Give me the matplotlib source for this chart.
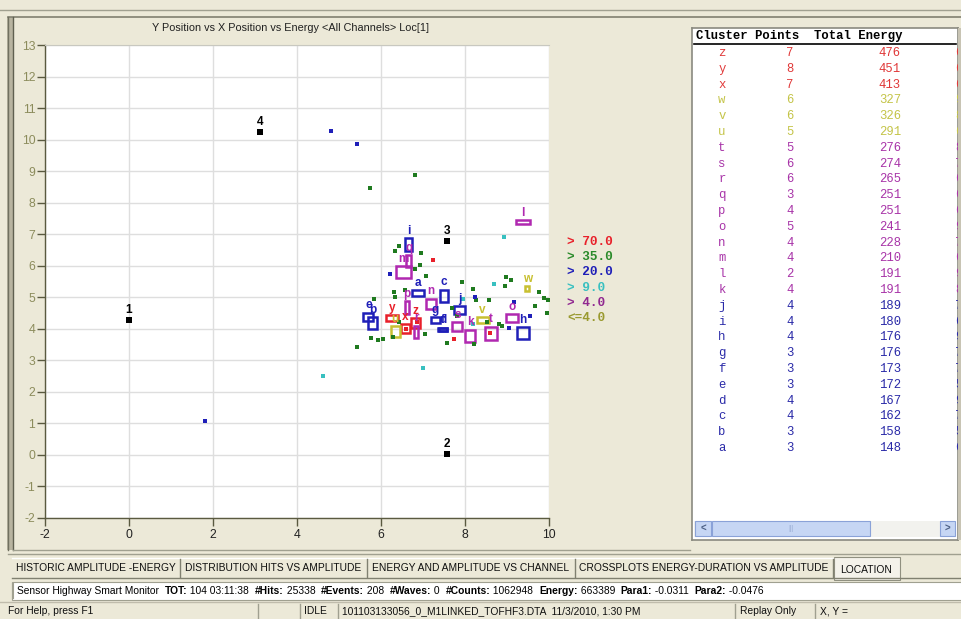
import matplotlib
matplotlib.use('Agg')
import matplotlib.pyplot as plt
from matplotlib.patches import Rectangle
from matplotlib.lines import Line2D

plt.rcParams['axes.unicode_minus'] = False
plt.rcParams['font.family'] = ['Liberation Sans', 'DejaVu Sans']

# ---------------- data ----------------
title = "Y Position vs X Position vs Energy <All Channels> Loc[1]"

sensor_ids = ['1', '2', '3', '4']
sensor_x = [0.0, 7.58, 7.58, 3.13]
sensor_y = [4.28, 0.03, 6.79, 10.25]

green_x = [6.42, 6.34, 6.96, 6.92, 6.80, 7.08, 6.32, 6.34, 6.58, 5.84, 7.94, 8.20, 8.26, 8.56,
           8.98, 9.10, 8.96, 9.76, 9.66, 9.88, 9.98, 9.96, 8.52, 8.80, 8.88, 5.76, 5.92, 6.04,
           5.44, 7.58, 8.22, 7.04, 6.28, 7.80, 6.44, 5.73, 6.80, 7.70]
green_y = [6.64, 6.47, 6.39, 6.02, 5.89, 5.67, 5.16, 5.00, 5.23, 4.95, 5.47, 5.26, 4.91, 4.91,
           5.65, 5.55, 5.37, 5.18, 4.72, 4.97, 4.91, 4.51, 4.21, 4.14, 4.10, 3.72, 3.64, 3.67,
           3.43, 3.54, 3.52, 3.84, 3.75, 4.42, 4.23, 8.46, 8.88, 4.65]
blue_x = [4.80, 5.44, 1.82, 6.22, 8.24, 9.16, 9.54, 9.04]
blue_y = [10.27, 9.86, 1.07, 5.74, 5.02, 4.86, 4.42, 4.04]
red_x = [7.24, 7.74, 8.60, 6.60, 6.85]
red_y = [6.18, 3.68, 3.88, 4.00, 4.20]
cyan_x = [4.61, 7.00, 8.94, 8.70, 7.96, 8.20]
cyan_y = [2.50, 2.75, 6.90, 5.41, 4.95, 4.15]

cluster_names = list('zyxwvutsrqponmlkjihgfedcba')
cluster_points = [7, 8, 7, 6, 6, 5, 5, 6, 6, 3, 4, 5, 4, 4, 2, 4, 4, 4, 4, 3, 3, 3, 4, 4, 3, 3]
cluster_energy = [476, 451, 413, 327, 326, 291, 276, 274, 265, 251, 251, 241, 228, 210, 191,
                  191, 189, 180, 176, 176, 173, 172, 167, 162, 158, 148]
cluster_extra = ['6', '6', '6', '9', '8', '6', '8', '7', '6', '6', '6', '9', '7', '6', '9',
                 '8', '7', '6', '9', '7', '7', '5', '9', '7', '5', '6']
cluster_x = [6.82, 6.26, 6.58, 9.48, 8.42, 6.34, 8.62, 7.82, 6.84, 6.66, 6.62, 9.12, 7.19,
             6.53, 9.38, 8.12, 7.88, 6.66, 9.38, 7.30, 7.46, 5.70, 7.47, 7.50, 5.80, 6.88]
cluster_y = [4.19, 4.33, 4.01, 5.28, 4.28, 3.91, 3.86, 4.07, 3.91, 6.15, 4.68, 4.35, 4.80,
             5.81, 7.38, 3.78, 4.60, 6.68, 3.86, 4.28, 3.98, 4.38, 3.99, 5.04, 4.19, 5.12]
cluster_w = [0.21, 0.29, 0.22, 0.11, 0.29, 0.21, 0.27, 0.24, 0.10, 0.13, 0.08, 0.27, 0.26,
             0.35, 0.34, 0.24, 0.26, 0.18, 0.27, 0.21, 0.22, 0.24, 0.20, 0.21, 0.21, 0.27]
cluster_h = [0.32, 0.19, 0.27, 0.15, 0.19, 0.36, 0.42, 0.27, 0.38, 0.37, 0.40, 0.25, 0.32,
             0.37, 0.13, 0.38, 0.23, 0.40, 0.38, 0.17, 0.11, 0.27, 0.10, 0.40, 0.37, 0.19]

legend_labels = ['> 70.0', '> 35.0', '> 20.0', '> 9.0', '> 4.0', '<=4.0']

tabs = ['HISTORIC AMPLITUDE -ENERGY', 'DISTRIBUTION HITS VS AMPLITUDE',
        'ENERGY AND AMPLITUDE VS CHANNEL', 'CROSSPLOTS ENERGY-DURATION VS AMPLITUDE', 'LOCATION']
status_runs = [('Sensor Highway Smart Monitor  ', False), ('TOT:', True), (' 104 03:11:38  ', False),
               ('#Hits:', True), (' 25338  ', False), ('#Events:', True), (' 208  ', False),
               ('#Waves:', True), (' 0  ', False), ('#Counts:', True), (' 1062948  ', False),
               ('Energy:', True), (' 663389  ', False), ('Para1:', True), (' -0.0311  ', False),
               ('Para2:', True), (' -0.0476', False)]
bottom_texts = ['For Help, press F1', 'IDLE', '101103133056_0_M1LINKED_TOFHF3.DTA  11/3/2010, 1:30 PM',
                'Replay Only', 'X, Y =']

# ---------------- colours ----------------
C_RED = '#e8202a'
C_GREEN = '#1f7a1f'
C_BLUE = '#1f1fb8'
C_CYAN = '#38c0c0'
C_MAG = '#b028b0'
C_YEL = '#c8c030'
C_OLIVE = '#9a9a30'
legend_colors = [C_RED, '#2a8a2a', C_BLUE, C_CYAN, '#902890', C_OLIVE]
BG = '#ECE9D8'

def cluster_color(name):
    if name in 'zyx':
        return C_RED
    if name in 'wvu':
        return C_YEL
    if name in 'tsrqponmlk':
        return C_MAG
    return C_BLUE

def table_color(name):
    if name in 'zyx':
        return '#e03838'
    if name in 'wvu':
        return '#c4c448'
    if name in 'tsrqponmlk':
        return '#a834a8'
    return '#2a2aa8'

# ---------------- figure ----------------
W, H = 962, 619
fig = plt.figure(figsize=(9.62, 6.19), dpi=100, facecolor=BG)

def fx(px):
    return px / W

def fy(py):
    return 1 - py / H

def frect(x0, y0, x1, y1, **kw):
    r = Rectangle((fx(x0), fy(y1)), (x1 - x0) / W, (y1 - y0) / H,
                  transform=fig.transFigure, **kw)
    fig.add_artist(r)
    return r

def fline(xs, ys, **kw):
    fig.add_artist(Line2D([fx(x) for x in xs], [fy(y) for y in ys],
                          transform=fig.transFigure, **kw))

# window frame
fline([0, 962], [10, 10], color='#a0a090', lw=1)
fline([8, 962], [17, 17], color='#808070', lw=1.2)
frect(7, 17, 13, 550, facecolor='#b8b4a0', edgecolor='none')
fline([8, 8], [17, 550], color='#707060', lw=1)
fline([13, 13], [17, 550], color='#606050', lw=1)
fline([13, 690], [550, 550], color='#a0a090', lw=1)

# ---------------- main plot ----------------
ax = fig.add_axes([fx(45), fy(518), 504 / W, 473 / H])
ax.set_facecolor('white')
ax.set_xlim(-2, 10)
ax.set_ylim(-2, 13)
ax.set_xticks(range(-2, 11, 2))
ax.set_yticks(range(-2, 14))
ax.grid(True, color='#dedede', lw=1)
ax.set_axisbelow(True)
for s in ['left', 'bottom']:
    ax.spines[s].set_color('#5a5a40')
    ax.spines[s].set_linewidth(1)
ax.spines['top'].set_color('#c8c8c0')
ax.spines['right'].set_visible(False)
ax.tick_params(axis='y', length=6, width=1, color='#5a5a40', labelcolor='#8c8c5c',
               labelsize=8.8, pad=1)
ax.tick_params(axis='x', length=6, width=1, color='#5a5a40', labelcolor='#222222',
               labelsize=8.8, pad=2)

# scattered hits
ax.plot(green_x, green_y, 's', color=C_GREEN, ms=2.6, mew=0)
ax.plot(blue_x, blue_y, 's', color=C_BLUE, ms=2.6, mew=0)
ax.plot(red_x, red_y, 's', color=C_RED, ms=2.6, mew=0)
ax.plot(cyan_x, cyan_y, 's', color=C_CYAN, ms=2.6, mew=0)

# cluster rectangles and labels
for name, cx, cy, w, h in zip(cluster_names, cluster_x, cluster_y, cluster_w, cluster_h):
    col = cluster_color(name)
    ax.add_patch(Rectangle((cx - w / 2, cy - h / 2), w, h, fill=False, edgecolor=col, lw=1.8))
    ax.text(cx, cy + h / 2 + 0.04, name, color=col, ha='center', va='bottom',
            fontsize=8.5, fontweight='bold')

# sensors
ax.plot(sensor_x, sensor_y, 's', color='black', ms=4.5, mew=0)
for sid, sx, sy in zip(sensor_ids, sensor_x, sensor_y):
    ax.text(sx, sy + 0.12, sid, ha='center', va='bottom', fontsize=8.5, fontweight='bold',
            color='black')

# title
fig.text(fx(290), fy(28), title, ha='center', va='center', fontsize=7.8, color='#202020')

# legend
for i, (lab, col) in enumerate(zip(legend_labels, legend_colors)):
    fig.text(fx(567), fy(242 + i * 15.2), lab, color=col, ha='left', va='center',
             fontsize=9.2, fontweight='bold', family='Liberation Mono')

# ---------------- table panel ----------------
tx0, tx1, ty0, ty1 = 692, 958, 28, 540
tab = fig.add_axes([fx(tx0), fy(ty1), (tx1 - tx0) / W, (ty1 - ty0) / H])
tab.set_xlim(tx0, tx1)
tab.set_ylim(ty1, ty0)
tab.set_facecolor('white')
tab.set_xticks([])
tab.set_yticks([])
for s in tab.spines.values():
    s.set_color('#8a8a80')
    s.set_linewidth(1.2)
tab.text(696, 36.5, 'Cluster Points  Total Energy', ha='left', va='center', fontsize=8.8,
         fontweight='bold', family='Liberation Mono', color='black')
tab.plot([694, 956], [44, 44], color='black', lw=1.2)
for i, (n, p, e, ex) in enumerate(zip(cluster_names, cluster_points, cluster_energy, cluster_extra)):
    yy = 53 + i * 15.8
    col = table_color(n)
    tab.text(722, yy, n, ha='center', va='center', fontsize=8.8, family='Liberation Mono', color=col)
    tab.text(790, yy, str(p), ha='center', va='center', fontsize=8.8, family='Liberation Mono', color=col)
    tab.text(901, yy, str(e), ha='right', va='center', fontsize=8.8, family='Liberation Mono', color=col)
    tab.text(955, yy, ex, ha='left', va='center', fontsize=8.8, family='Liberation Mono',
             color=col, clip_on=True)
# scrollbar
tab.add_patch(Rectangle((694, 521), 262, 16, facecolor='#f2f2ee', edgecolor='none'))
tab.add_patch(Rectangle((695, 521), 16, 15, facecolor='#c6d6f4', edgecolor='#8aa2d8', lw=0.8))
tab.add_patch(Rectangle((712, 521), 158, 15, facecolor='#c6d6f4', edgecolor='#8aa2d8', lw=0.8))
tab.add_patch(Rectangle((940, 521), 15, 15, facecolor='#c6d6f4', edgecolor='#8aa2d8', lw=0.8))
tab.text(703, 529, '<', ha='center', va='center', fontsize=7, fontweight='bold', color='#4d6185')
tab.text(947.5, 529, '>', ha='center', va='center', fontsize=7, fontweight='bold', color='#4d6185')
tab.text(791, 529, '|||', ha='center', va='center', fontsize=5, color='#9fb2d8')
frect(958, 28, 962, 540, facecolor='#c8c4b4', edgecolor='none')

# ---------------- tabs ----------------
fline([8, 962], [554, 554], color='#a0a090', lw=1)
tab_edges = [12, 180, 367, 575, 833, 900]
fline([12, 833], [558, 558], color='white', lw=1)
fline([12, 962], [578, 578], color='#808070', lw=1)
frect(834, 557, 900, 580, facecolor='#f4f2ea', edgecolor='#909080', lw=0.8)
for i, t in enumerate(tabs):
    x0, x1 = tab_edges[i], tab_edges[i + 1]
    yy = 568 if i < 4 else 570
    fig.text(fx((x0 + x1) / 2), fy(yy), t, ha='center', va='center', fontsize=7.4,
             family=['Liberation Sans Narrow', 'Liberation Sans'], color='#101010')
    if i < 4:
        fline([x1, x1], [559, 577], color='#808070', lw=1)

# ---------------- status line ----------------
frect(12, 582, 962, 600, facecolor='white', edgecolor='#a0a090', lw=0.8)
fline([13, 13], [584, 598], color='#a0a090', lw=1.5)
renderer = fig.canvas.get_renderer()
xpos = 17
for txt, bold in status_runs:
    t = fig.text(fx(xpos), fy(591), txt, ha='left', va='center', fontsize=7.4,
                 fontweight='bold' if bold else 'normal',
                 family=['Liberation Sans Narrow', 'Liberation Sans'], color='black')
    bb = t.get_window_extent(renderer)
    xpos += bb.width

# ---------------- bottom bar ----------------
fline([0, 962], [602, 602], color='#c0bcac', lw=1)
for x in [258, 300, 338, 735, 815]:
    fline([x, x], [604, 619], color='#a0a090', lw=1)
for x, t in zip([8, 304, 342, 740, 820], bottom_texts):
    fig.text(fx(x), fy(611), t, ha='left', va='center', fontsize=7.4,
             family=['Liberation Sans Narrow', 'Liberation Sans'], color='#101010')

fig.savefig('out.png', dpi=100, facecolor=BG)
